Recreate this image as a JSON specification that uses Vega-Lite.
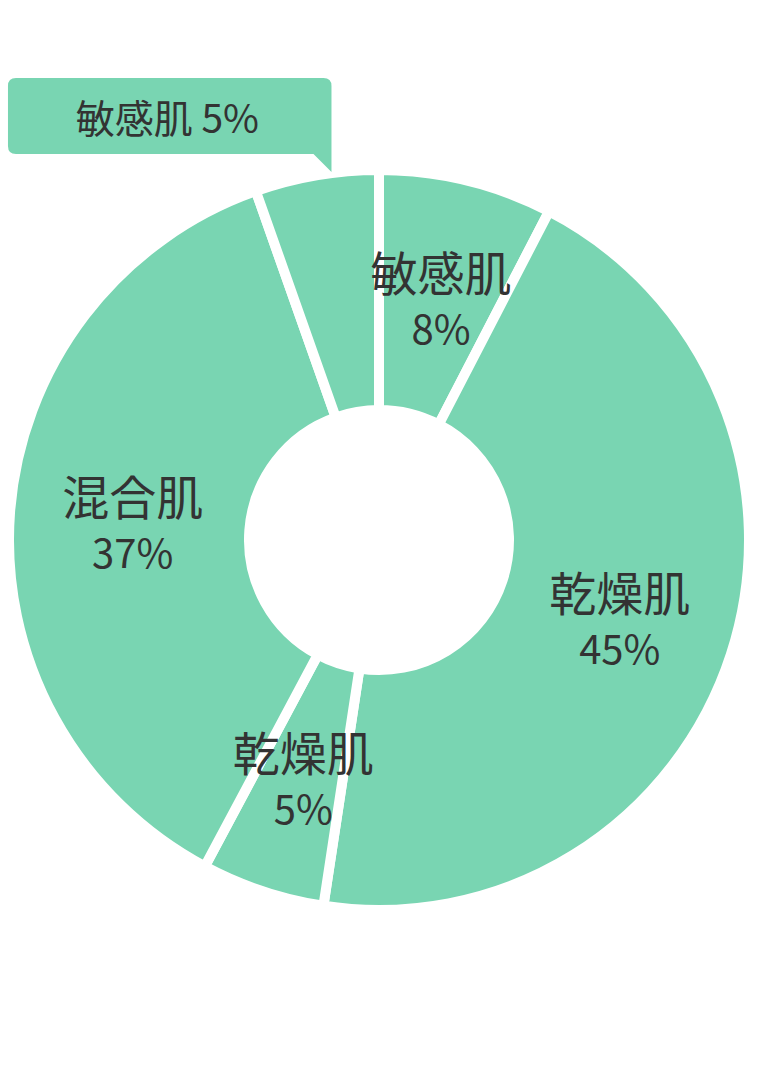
{
  "$schema": "https://vega.github.io/schema/vega-lite/v6.json",
  "width": 758,
  "height": 1086,
  "autosize": {"type": "fit", "contains": "padding"},
  "padding": {"top": 0, "left": 0, "right": 0, "bottom": 6},
  "background": "white",
  "data": {
    "values": [
      {"rank": 1, "name": "敏感肌", "share": 0.076},
      {"rank": 2, "name": "乾燥肌", "share": 0.448},
      {"rank": 3, "name": "乾燥肌", "share": 0.054},
      {"rank": 4, "name": "混合肌", "share": 0.368},
      {"rank": 5, "name": "敏感肌", "share": 0.054}
    ]
  },
  "transform": [
    {"stack": "share", "groupby": [], "sort": [{"field": "rank"}], "as": ["s0", "s1"]},
    {"calculate": "(datum.s0 + datum.s1) / 2", "as": "mid"}
  ],
  "layer": [
    {
      "mark": {
        "type": "arc",
        "radius": 370,
        "radius2": 130,
        "color": "#79d5b2",
        "stroke": "#ffffff",
        "strokeWidth": 10
      },
      "encoding": {
        "theta": {"field": "s0", "type": "quantitative", "scale": {"domain": [0, 1]}},
        "theta2": {"field": "s1"}
      }
    },
    {
      "transform": [{"filter": "datum.rank < 5"}],
      "encoding": {
        "theta": {"field": "mid", "type": "quantitative"},
        "radius": {"value": 250}
      },
      "layer": [
        {
          "mark": {
            "type": "text",
            "font": "Noto Sans CJK JP",
            "fontSize": 47,
            "color": "#333333",
            "align": "center",
            "baseline": "middle",
            "dx": 3,
            "dy": -20
          },
          "encoding": {"text": {"field": "name"}}
        },
        {
          "mark": {
            "type": "text",
            "font": "Noto Sans CJK JP",
            "fontSize": 40,
            "color": "#333333",
            "align": "center",
            "baseline": "middle",
            "dx": 3,
            "dy": 35
          },
          "encoding": {"text": {"field": "share", "type": "quantitative", "format": ".0%"}}
        }
      ]
    },
    {
      "transform": [
        {"filter": "datum.rank == 5"},
        {"calculate": "sin(2 * PI * datum.mid)", "as": "ux"},
        {"calculate": "cos(2 * PI * datum.mid)", "as": "uy"},
        {"calculate": "datum.name + ' ' + format(datum.share, '.0%')", "as": "caption"}
      ],
      "encoding": {
        "x": {"field": "ux", "type": "quantitative", "scale": {"domain": [-1, 1], "range": [14, 744]}, "axis": null},
        "y": {"field": "uy", "type": "quantitative", "scale": {"domain": [-1, 1], "range": [905, 175]}, "axis": null}
      },
      "layer": [
        {
          "mark": {
            "type": "point",
            "shape": "M -3.124 -1.023 L -0.049 -1.023 Q 0.031 -1.023 0.031 -0.943 L 0.031 -0.083 L -0.149 -0.263 L -3.124 -0.263 Q -3.204 -0.263 -3.204 -0.343 L -3.204 -0.943 Q -3.204 -1.023 -3.124 -1.023 Z",
            "size": 40000,
            "filled": true,
            "color": "#79d5b2",
            "opacity": 1
          }
        },
        {
          "mark": {
            "type": "text",
            "font": "Noto Sans CJK JP",
            "fontSize": 39,
            "color": "#333333",
            "align": "center",
            "baseline": "middle",
            "dx": -161,
            "dy": -59
          },
          "encoding": {"text": {"field": "caption"}}
        }
      ]
    }
  ],
  "config": {
    "view": {"stroke": null}
  }
}
